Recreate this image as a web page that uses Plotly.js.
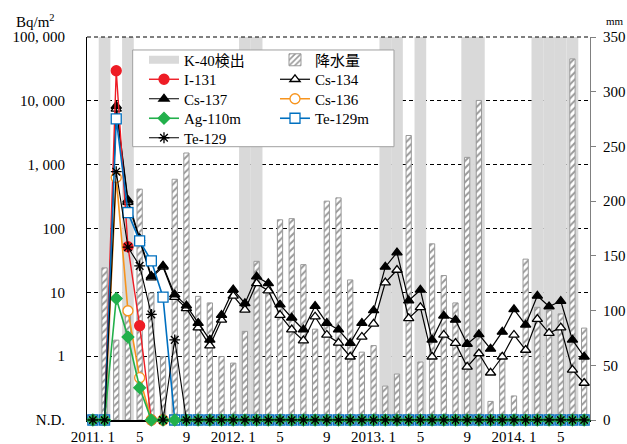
<!DOCTYPE html>
<html>
<head>
<meta charset="utf-8">
<script src="https://cdn.plot.ly/plotly-3.0.1.min.js"></script>
<style>html,body{margin:0;padding:0;background:#fff;}#chart{width:627px;height:444px;}</style>
</head>
<body>
<div id="chart"></div>
<script>
// ---- data ----
const ND = 0.1; // N.D. (not detected) level on the log axis
const months = ['2011.1','2011.2','2011.3','2011.4','2011.5','2011.6','2011.7','2011.8','2011.9','2011.10','2011.11','2011.12',
  '2012.1','2012.2','2012.3','2012.4','2012.5','2012.6','2012.7','2012.8','2012.9','2012.10','2012.11','2012.12',
  '2013.1','2013.2','2013.3','2013.4','2013.5','2013.6','2013.7','2013.8','2013.9','2013.10','2013.11','2013.12',
  '2014.1','2014.2','2014.3','2014.4','2014.5','2014.6','2014.7'];
const tickMonths = ['2011.1','2011.5','2011.9','2012.1','2012.5','2012.9','2013.1','2013.5','2013.9','2014.1','2014.5'];
const tickLabels = ['2011. 1','5','9','2012. 1','5','9','2013. 1','5','9','2014. 1','5'];
const bqTicks = [0.1, 1, 10, 100, 1000, 10000, 100000];
const bqTickLabels = ['N.D.','1','10','100','1, 000','10, 000','100, 000'];
const k40Months = ['2011.2','2011.4','2012.2','2012.3','2013.2','2013.3','2013.5','2013.9','2013.10','2014.3','2014.4','2014.5','2014.6'];
const precipMax = 350;
const precip = [null,139,73,100,211,116,58,220,244,113,107,58,
  52,81,145,115,183,184,142,83,200,203,128,62,
  68,31,42,260,53,161,132,107,240,292,17,61,
  22,147,103,100,97,330,84];
const i131 = [ND,ND,29600,52,3.0,ND,ND,ND,ND,ND,ND,ND, ND,ND,ND,ND,ND,ND,ND,ND,ND,ND,ND,ND, ND,ND,ND,ND,ND,ND,ND,ND,ND,ND,ND,ND, ND,ND,ND,ND,ND,ND,ND];
const cs134 = [ND,ND,7500,260,65,17,25,8.4,5.6,2.8,1.46,3.7,
  8.8,5.3,13.8,10.6,4.4,2.6,1.75,4.15,2.15,1.62,0.98,2.0,
  3.2,14.2,22.4,3.9,5.8,0.98,2.15,1.6,0.68,1.1,0.55,0.98,
  2.15,1.25,3.8,2.3,2.8,0.61,0.38];
const cs137 = [ND,ND,8300,280,70,18,26,9.2,6.2,3.3,1.8,4.4,
  11,6.7,17.6,13.8,6.4,4.0,2.6,6.1,3.3,2.6,1.6,3.3,
  5.2,25,42,7.4,10.9,1.8,4.3,3.7,1.55,2.2,1.3,2.4,
  5.4,3.1,8.8,6.0,7.3,1.8,0.98];
const cs136 = [ND,ND,630,5.15,0.46,ND,ND,ND,ND,ND,ND,ND, ND,ND,ND,ND,ND,ND,ND,ND,ND,ND,ND,ND, ND,ND,ND,ND,ND,ND,ND,ND,ND,ND,ND,ND, ND,ND,ND,ND,ND,ND,ND];
const ag110m = [ND,ND,8.0,2.0,0.32,ND,ND,ND,ND,ND,ND,ND, ND,ND,ND,ND,ND,ND,ND,ND,ND,ND,ND,ND, ND,ND,ND,ND,ND,ND,ND,ND,ND,ND,ND,ND, ND,ND,ND,ND,ND,ND,ND];
const te129m = [ND,ND,5200,177,64,31,8.4,ND,ND,ND,ND,ND, ND,ND,ND,ND,ND,ND,ND,ND,ND,ND,ND,ND, ND,ND,ND,ND,ND,ND,ND,ND,ND,ND,ND,ND, ND,ND,ND,ND,ND,ND,ND];
const te129 = [ND,ND,776,51,26,4.5,ND,1.8,ND,ND,ND,ND, ND,ND,ND,ND,ND,ND,ND,ND,ND,ND,ND,ND, ND,ND,ND,ND,ND,ND,ND,ND,ND,ND,ND,ND, ND,ND,ND,ND,ND,ND,ND];

// ---- style ----
const FONT = "'Liberation Serif', 'DejaVu Serif', 'Noto Sans CJK JP', serif";
const GREY_BAND = '#d9d9d9';
const HATCH = '#999999';

function lineTrace(name, y, color, symbol, fill, size, lw, legend, rank) {
  return {
    type: 'scatter', mode: 'lines+markers', name: name, x: months, y: y,
    xaxis: 'x', yaxis: 'y2', cliponaxis: false,
    line: {color: color, width: lw},
    marker: {symbol: symbol, size: size, color: fill, line: {color: color, width: 1.3}},
    legend: legend, legendrank: rank, hoverinfo: 'skip'
  };
}

const traces = [
  {type: 'bar', name: 'K-40検出', x: k40Months, y: k40Months.map(() => precipMax), width: 1,
   xaxis: 'x', yaxis: 'y', marker: {color: GREY_BAND, line: {width: 0}}, showlegend: false, hoverinfo: 'skip'},
  {type: 'bar', name: '降水量', x: months, y: precip, width: 0.45, xaxis: 'x', yaxis: 'y',
   marker: {color: 'white', line: {color: HATCH, width: 1},
            pattern: {shape: '/', fgcolor: HATCH, bgcolor: 'white', size: 5, solidity: 0.4, fillmode: 'replace'}},
   legend: 'legend', legendrank: 2, hoverinfo: 'skip'},
  {type: 'scatter', mode: 'lines', name: 'K-40検出', x: [null], y: [null], xaxis: 'x', yaxis: 'y2',
   line: {color: GREY_BAND, width: 8}, legend: 'legend', legendrank: 1, hoverinfo: 'skip'},
  lineTrace('Cs-134', cs134, '#000000', 'triangle-up', '#ffffff', 9, 1.2, 'legend2', 2),
  lineTrace('Cs-137', cs137, '#000000', 'triangle-up', '#000000', 9, 1.2, 'legend3', 1),
  lineTrace('I-131', i131, '#ee1c25', 'circle', '#ee1c25', 10, 1.4, 'legend2', 1),
  lineTrace('Cs-136', cs136, '#f7941d', 'circle', '#ffffff', 10, 1.6, 'legend3', 2),
  lineTrace('Te-129m', te129m, '#0070c0', 'square', '#ffffff', 10, 1.6, 'legend4', 2),
  lineTrace('Ag-110m', ag110m, '#22b04b', 'diamond', '#22b04b', 9, 1.6, 'legend4', 1),
  lineTrace('Te-129', te129, '#000000', 'asterisk-open', '#000000', 9, 1.1, 'legend5', 1)
];

function rowLegend(yPaper) {
  return {orientation: 'h', x: 0.1133, xanchor: 'left', xref: 'paper', y: yPaper, yanchor: 'middle', yref: 'paper',
          entrywidth: 86, entrywidthmode: 'pixels', bgcolor: 'rgba(0,0,0,0)', borderwidth: 0,
          font: {family: FONT, size: 15, color: '#000'}, traceorder: 'normal', itemclick: false, itemdoubleclick: false};
}

const layout = {
  width: 627, height: 444,
  margin: {l: 87, r: 37, t: 37, b: 24, pad: 0},
  paper_bgcolor: '#ffffff', plot_bgcolor: '#ffffff',
  font: {family: FONT, size: 15, color: '#000'},
  barmode: 'overlay',
  showlegend: true,
  legend: rowLegend(0.9399),
  legend2: rowLegend(0.8890),
  legend3: rowLegend(0.8381),
  legend4: rowLegend(0.7872),
  legend5: rowLegend(0.7363),
  xaxis: {type: 'category', categoryorder: 'array', categoryarray: months, range: [-0.5, months.length - 0.5],
          showline: true, linecolor: '#000', linewidth: 2, showgrid: false, zeroline: false,
          tickmode: 'array', tickvals: tickMonths, ticktext: tickLabels,
          ticks: 'outside', ticklen: 2, tickcolor: 'rgba(0,0,0,0)', tickfont: {family: FONT, size: 15, color: '#000'},
          layer: 'below traces', automargin: false, fixedrange: true},
  yaxis: {side: 'right', range: [0, precipMax], tick0: 0, dtick: 50, showgrid: false, zeroline: false,
          showline: true, linecolor: '#808080', linewidth: 1, ticks: 'outside', ticklen: 5, tickcolor: '#808080',
          tickfont: {family: FONT, size: 15, color: '#000'}, ticklabelstandoff: 4, automargin: false, fixedrange: true},
  yaxis2: {type: 'log', range: [-1, 5], overlaying: 'y', side: 'left', anchor: 'x',
           tickmode: 'array', tickvals: bqTicks, ticktext: bqTickLabels,
           showgrid: true, gridcolor: '#000', gridwidth: 1, griddash: '4px,3px', zeroline: false,
           showline: true, linecolor: '#000', linewidth: 1,
           ticks: 'outside', ticklen: 18, tickcolor: 'rgba(0,0,0,0)',
           tickfont: {family: FONT, size: 15, color: '#000'}, automargin: false, fixedrange: true},
  shapes: [
    {type: 'line', xref: 'paper', yref: 'paper', x0: 0, x1: 1, y0: 1, y1: 1,
     line: {color: '#000', width: 1, dash: '4px,3px'}, layer: 'above'},
    {type: 'rect', xref: 'paper', yref: 'paper', x0: 0.0908, x1: 0.6103, y0: 0.7136, y1: 0.9661,
     fillcolor: '#ffffff', line: {color: '#a0a0a0', width: 1}, layer: 'above'}
  ],
  annotations: [
    {xref: 'paper', yref: 'paper', x: -0.1451, y: 1.0418, xanchor: 'left', yanchor: 'middle', showarrow: false,
     text: 'Bq/m<sup>2</sup>', font: {family: FONT, size: 15, color: '#000'}},
    {xref: 'paper', yref: 'paper', x: 1.0497, y: 1.0418, xanchor: 'center', yanchor: 'middle', showarrow: false,
     text: 'mm', font: {family: FONT, size: 11, color: '#000'}}
  ]
};

Plotly.newPlot('chart', traces, layout, {displayModeBar: false, staticPlot: true});
</script>
</body>
</html>
